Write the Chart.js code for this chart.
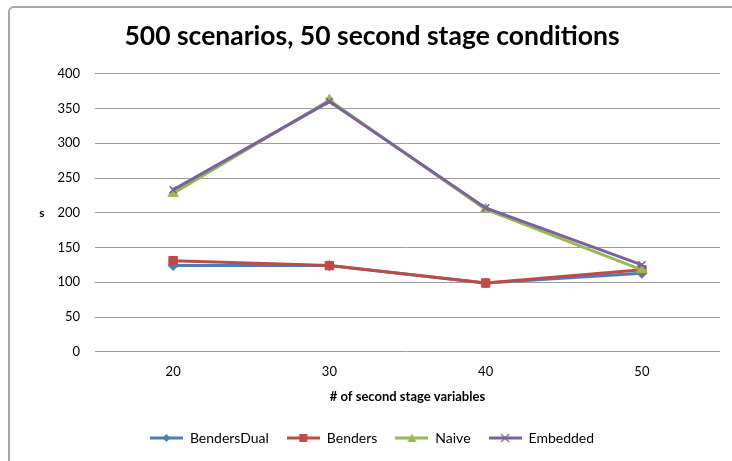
<!DOCTYPE html>
<html>
<head>
<meta charset="utf-8">
<script src="https://cdn.jsdelivr.net/npm/chart.js@4/dist/chart.umd.min.js"></script>
<style>
  html, body { margin: 0; padding: 0; background: #fff; }
  #wrap { position: relative; width: 732px; height: 461px; overflow: hidden; }
  #frame {
    position: absolute; left: 8px; top: 6px; width: 760px; height: 500px;
    border: 2px solid #a6a6a6; border-radius: 6px; box-sizing: border-box;
  }
  #box { position: absolute; left: 0; top: 0; width: 732px; height: 461px; }
</style>
</head>
<body>
<div id="wrap">
  <div id="frame"></div>
  <div id="box"><canvas id="timeChart"></canvas></div>
</div>
<script>
/* data */
const categories = ["20", "30", "40", "50"];
const bendersDual = [124, 124, 99, 113];
const benders = [131, 124, 99, 118];
const naive = [228, 362, 205, 118];
const embedded = [233, 360, 207, 125];
const yTicks = [0, 50, 100, 150, 200, 250, 300, 350, 400];

const FONT = "Lato, 'Open Sans', sans-serif";

/* legend swatch: short line with the marker in the middle */
function swatch(color, shape) {
  const c = document.createElement("canvas");
  c.width = 33;
  c.height = 12;
  const g = c.getContext("2d");
  g.strokeStyle = color;
  g.fillStyle = color;
  g.lineWidth = 3;
  g.beginPath();
  g.moveTo(0, 6);
  g.lineTo(33, 6);
  g.stroke();
  g.beginPath();
  if (shape === "rectRot") {
    g.moveTo(16.5, 2); g.lineTo(20.5, 6); g.lineTo(16.5, 10); g.lineTo(12.5, 6);
    g.closePath(); g.fill();
  } else if (shape === "rect") {
    g.fillRect(12.5, 2, 8, 8);
  } else if (shape === "triangle") {
    g.moveTo(16.5, 1.5); g.lineTo(21, 10); g.lineTo(12, 10);
    g.closePath(); g.fill();
  } else {
    g.lineWidth = 1.2;
    g.moveTo(12.5, 2); g.lineTo(20.5, 10);
    g.moveTo(20.5, 2); g.lineTo(12.5, 10);
    g.stroke();
  }
  return c;
}

const series = [
  { label: "BendersDual", data: bendersDual, color: "#4a7ebb", shape: "rectRot", r: 5, order: 3 },
  { label: "Benders", data: benders, color: "#be4b48", shape: "rect", r: 6, order: 2 },
  { label: "Naive", data: naive, color: "#98b954", shape: "triangle", r: 6, order: 1 },
  { label: "Embedded", data: embedded, color: "#7d60a0", shape: "crossRot", r: 5, order: 0 }
];

/* horizontal "s" axis title, Excel style */
const sideTitle = {
  id: "sideTitle",
  afterDraw(chart) {
    const ctx = chart.ctx;
    const area = chart.chartArea;
    ctx.save();
    ctx.font = "bold 12px " + FONT;
    ctx.fillStyle = "#000";
    ctx.textAlign = "center";
    ctx.textBaseline = "middle";
    ctx.fillText("s", 42, (area.top + area.bottom) / 2);
    ctx.restore();
  }
};

new Chart(document.getElementById("timeChart"), {
  type: "line",
  data: {
    labels: categories,
    datasets: series.map(s => ({
      label: s.label,
      data: s.data,
      borderColor: s.color,
      backgroundColor: s.color,
      borderWidth: 3,
      pointStyle: s.shape,
      pointRadius: s.r,
      pointBorderWidth: s.shape === "crossRot" ? 1.5 : 1,
      tension: 0,
      order: s.order
    }))
  },
  options: {
    responsive: true,
    maintainAspectRatio: false,
    animation: false,
    layout: { padding: { left: 24, right: 12, top: 0, bottom: 6 } },
    plugins: {
      title: {
        display: true,
        text: "500 scenarios, 50 second stage conditions",
        color: "#000",
        font: { family: FONT, size: 26.5, weight: "bold" },
        padding: { top: 21, bottom: 21 }
      },
      legend: {
        position: "bottom",
        labels: {
          usePointStyle: true,
          pointStyleWidth: 33,
          padding: 18,
          color: "#000",
          font: { family: FONT, size: 14 },
          generateLabels: chart => series.map((s, i) => ({
            text: s.label,
            pointStyle: swatch(s.color, s.shape),
            fillStyle: s.color,
            strokeStyle: s.color,
            lineWidth: 0,
            hidden: !chart.isDatasetVisible(i),
            datasetIndex: i
          }))
        }
      },
      tooltip: { enabled: false }
    },
    scales: {
      x: {
        offset: true,
        grid: { display: false, drawTicks: false },
        border: { display: false },
        ticks: { color: "#000", font: { family: FONT, size: 13 }, padding: 12 },
        title: {
          display: true,
          text: "# of second stage variables",
          color: "#000",
          font: { family: FONT, size: 13, weight: "bold" },
          padding: { top: -2, bottom: 8 }
        }
      },
      y: {
        min: 0,
        max: 400,
        afterBuildTicks: scale => { scale.ticks = yTicks.map(v => ({ value: v })); },
        afterFit: scale => { scale.width = 71; },
        grid: { color: "#9c9c9c", lineWidth: 1, drawTicks: false },
        border: { display: false },
        ticks: { color: "#000", font: { family: FONT, size: 13 }, padding: 15 }
      }
    }
  },
  plugins: [sideTitle]
});
</script>
</body>
</html>
